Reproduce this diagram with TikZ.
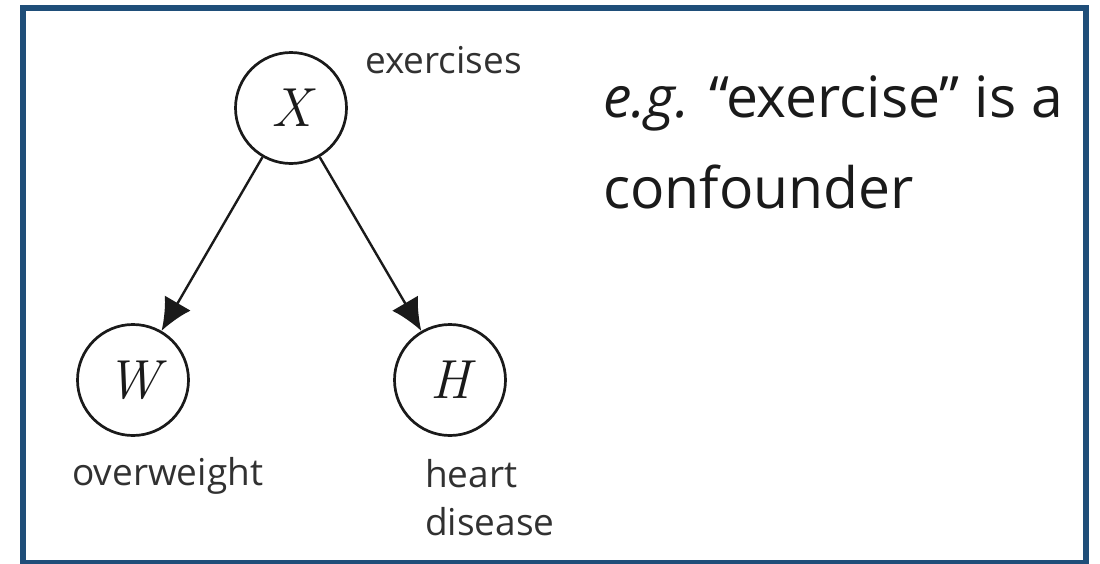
\documentclass[tikz,border=0pt]{standalone}
\usepackage{fontspec}
\setmainfont{Open Sans}
\newfontfamily\varfont{Latin Modern Roman}
\usepackage{tikz}
\usetikzlibrary{positioning,arrows.meta,calc}
\definecolor{ink}     {HTML}{1A1A1A}
\definecolor{frame}   {HTML}{1F4E79}
\tikzset{
  >={Latex[length=32pt,width=30pt]},
  % --- nodes
  var/.style  = {circle, draw=ink, line width=2.7pt, minimum size=111pt,
                 inner sep=0pt, text=ink, font=\fontsize{55}{60}\varfont\itshape},
  lbl/.style  = {anchor=base west, inner sep=0pt, text=ink!90,
                 font=\fontsize{37}{48}\selectfont, align=left},
  big/.style  = {anchor=base west, inner sep=0pt, text=ink,
                 font=\fontsize{57}{91}\selectfont, align=left},
  % --- edges
  e/.style    = {->, line width=2.4pt, draw=ink},
}

\begin{document}
\begin{tikzpicture}[x=1pt,y=-1pt]
  \useasboundingbox (0,0) rectangle (1100,563);
  \draw[frame, line width=6pt] (23,8) rectangle (1086,563);

  \node[var] (x) at (291,108) {X};
  \node[var] (w) at (133,380) {W};
  \node[var] (h) at (450,380) {H};

  \node[lbl] (xl) at (365,73)  {exercises};
  \node[lbl] (wl) at (72,485)  {overweight};
  \node[lbl] (hl) at (425,535) {heart\\disease};

  \node[big] (note) at (603,208) {\textit{e.g.} “exercise” is a\\confounder};

  \draw[e] (x) -- (w);
  \draw[e] (x) -- (h);
\end{tikzpicture}
\end{document}
